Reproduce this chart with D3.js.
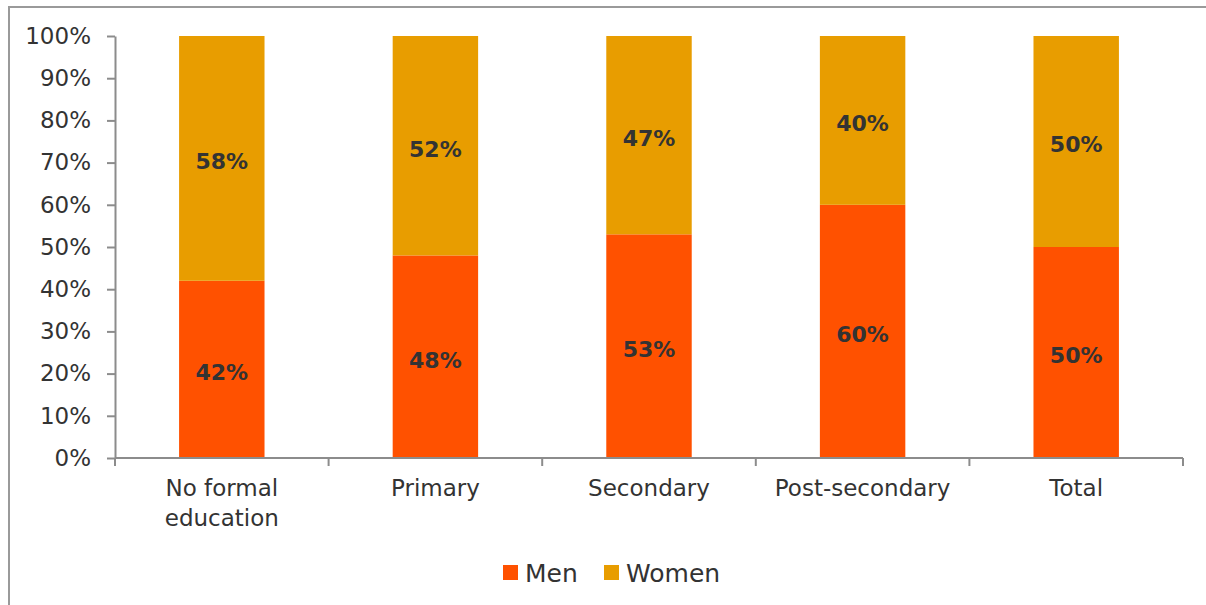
<!DOCTYPE html>
<html>
<head>
<meta charset="utf-8">
<script src="https://cdn.jsdelivr.net/npm/d3@7"></script>
<style>
  html, body { margin: 0; padding: 0; background: #fff; }
  svg { display: block; }
  text { font-family: "DejaVu Sans", sans-serif; }
</style>
</head>
<body>
<svg id="chart" width="1206" height="605"></svg>
<script>
// Share of men and women by education level
const categories = [["No formal", "education"], ["Primary"], ["Secondary"], ["Post-secondary"], ["Total"]];
const men   = [42, 48, 53, 60, 50];
const women = [58, 52, 47, 40, 50];
const yTicks = [0, 10, 20, 30, 40, 50, 60, 70, 80, 90, 100];
const seriesNames = ["Men", "Women"];
const colors = { Men: "#FF5100", Women: "#E89D00" };

const svg = d3.select("#chart");
const W = 1206, H = 605;
const m = { left: 115, right: 23, top: 36, bottom: 147 };

// outer frame (left and top edges visible)
svg.append("path")
  .attr("d", `M9,${H} L9,7 L${W + 5},7`)
  .attr("fill", "none")
  .attr("stroke", "#9a9a9a")
  .attr("stroke-width", 2);

const keys = categories.map(c => c.join(" "));
const x = d3.scaleBand().domain(keys).range([m.left, W - m.right]).paddingInner(0.6).paddingOuter(0.3);
const y = d3.scaleLinear().domain([0, 100]).range([H - m.bottom, m.top]);

const rows = keys.map((k, i) => ({ key: k, Men: men[i], Women: women[i] }));
const stack = d3.stack().keys(seriesNames)(rows);

const g = svg.append("g");
stack.forEach(layer => {
  g.selectAll(null).data(layer).enter().append("rect")
    .attr("x", d => x(d.data.key))
    .attr("width", x.bandwidth())
    .attr("y", d => y(d[1]))
    .attr("height", d => y(d[0]) - y(d[1]))
    .attr("fill", colors[layer.key]);
  g.selectAll(null).data(layer).enter().append("text")
    .attr("x", d => x(d.data.key) + x.bandwidth() / 2)
    .attr("y", d => (y(d[0]) + y(d[1])) / 2 + 3)
    .attr("dy", "0.36em")
    .attr("text-anchor", "middle")
    .attr("font-size", 22)
    .attr("font-weight", "bold")
    .attr("fill", "#333")
    .text(d => (d[1] - d[0]) + "%");
});

// y axis
const yAxis = svg.append("g")
  .attr("transform", `translate(${m.left},0)`)
  .call(d3.axisLeft(y).tickValues(yTicks).tickSize(8).tickSizeOuter(0).tickPadding(16).tickFormat(d => d + "%"));
yAxis.select(".domain").attr("stroke", "#8c8c8c").attr("stroke-width", 2);
yAxis.selectAll(".tick line").attr("stroke", "#8c8c8c").attr("stroke-width", 2);
yAxis.selectAll(".tick text").attr("font-size", 23).attr("fill", "#333").attr("font-family", "DejaVu Sans, sans-serif");

// x axis with ticks between categories
const x0 = m.left, x1 = W - m.right, y0 = y(0);
svg.append("line").attr("x1", x0).attr("x2", x1).attr("y1", y0).attr("y2", y0)
  .attr("stroke", "#8c8c8c").attr("stroke-width", 2);
svg.selectAll(".xt").data(d3.range(keys.length + 1)).enter().append("line")
  .attr("x1", i => x0 + i * (x1 - x0) / keys.length)
  .attr("x2", i => x0 + i * (x1 - x0) / keys.length)
  .attr("y1", y0).attr("y2", y0 + 8)
  .attr("stroke", "#8c8c8c").attr("stroke-width", 2);

const labels = svg.selectAll(".xl").data(categories).enter().append("text")
  .attr("text-anchor", "middle")
  .attr("font-size", 23)
  .attr("fill", "#333")
  .attr("transform", (d, i) => `translate(${x(keys[i]) + x.bandwidth() / 2},${y0 + 38})`);
labels.selectAll("tspan").data(d => d).enter().append("tspan")
  .attr("x", 0)
  .attr("dy", (d, i) => i === 0 ? 0 : 30)
  .text(d => d);

// legend
const legend = svg.append("g").attr("transform", "translate(503,565)");
const lx = [0, 101];
seriesNames.forEach((s, i) => {
  legend.append("rect").attr("x", lx[i]).attr("y", 0).attr("width", 15).attr("height", 15).attr("fill", colors[s]);
  legend.append("text").attr("x", lx[i] + 22).attr("y", 7.5).attr("dy", "0.36em")
    .attr("font-size", 25).attr("fill", "#333").text(s);
});
</script>
</body>
</html>
